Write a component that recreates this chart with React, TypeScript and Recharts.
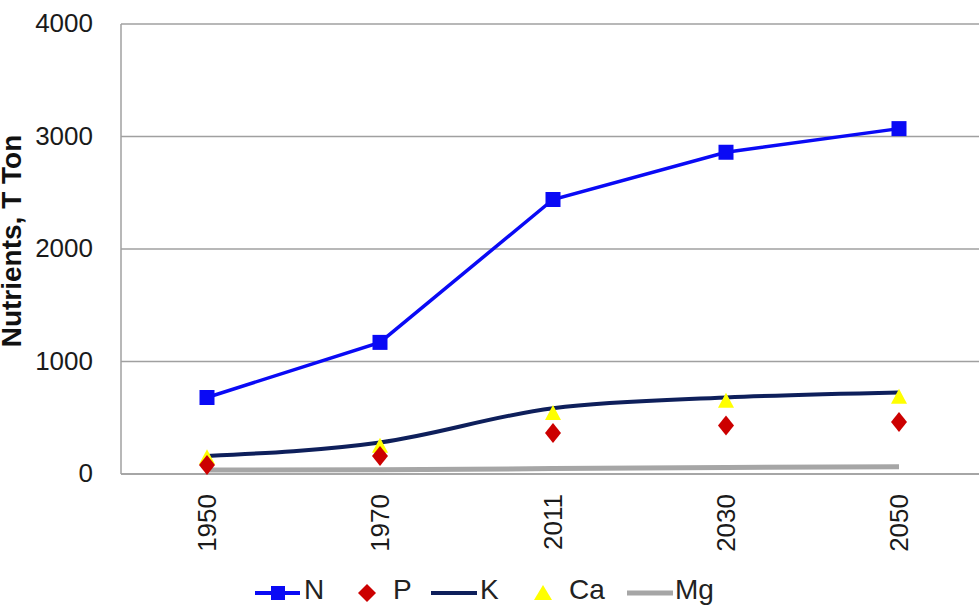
import React from "react";
import { LineChart, Line, XAxis, YAxis, CartesianGrid, Legend } from "recharts";

const years = ["1950", "1970", "2011", "2030", "2050"];
const nValues = [680, 1170, 2440, 2860, 3070];
const pValues = [80, 160, 364, 432, 462];
const kValues = [160, 280, 585, 680, 725];
const caValues = [150, 252, 542, 652, 687];
const mgValues = [35, 38, 48, 58, 65];
const yTicks = [0, 1000, 2000, 3000, 4000];

const data = years.map((y, i) => ({
  year: y,
  N: nValues[i],
  P: pValues[i],
  K: kValues[i],
  Ca: caValues[i],
  Mg: mgValues[i],
}));

const COLORS = { N: "#0A0AF5", P: "#CC0000", K: "#0E1F5B", Ca: "#FFFF00", Mg: "#A6A6A6" };
const FONT = "'Liberation Sans', Arial, sans-serif";

const SquareDot = (props: any) => {
  const { cx, cy, index } = props;
  if (cx == null || cy == null) return null;
  return <rect key={`n-${index}`} x={cx - 7.5} y={cy - 7.5} width={15} height={15} fill={COLORS.N} />;
};
const DiamondDot = (props: any) => {
  const { cx, cy, index } = props;
  if (cx == null || cy == null) return null;
  return (
    <polygon
      key={`p-${index}`}
      points={`${cx},${cy - 10} ${cx + 8},${cy} ${cx},${cy + 10} ${cx - 8},${cy}`}
      fill={COLORS.P}
    />
  );
};
const TriangleDot = (props: any) => {
  const { cx, cy, index } = props;
  if (cx == null || cy == null) return null;
  return (
    <polygon
      key={`c-${index}`}
      points={`${cx},${cy - 8} ${cx + 8},${cy + 7} ${cx - 8},${cy + 7}`}
      fill={COLORS.Ca}
    />
  );
};

const XTick = (props: any) => {
  const { x, y, payload } = props;
  return (
    <text
      x={0}
      y={0}
      transform={`translate(${x + 9},${y + 12}) rotate(-90)`}
      textAnchor="end"
      fontSize={26}
      fontFamily={FONT}
      fill="#1a1a1a"
    >
      {payload.value}
    </text>
  );
};

const YLabel = (props: any) => {
  const { viewBox } = props;
  const cy = viewBox ? viewBox.y + viewBox.height / 2 - 8 : 240;
  return (
    <text
      x={0}
      y={0}
      transform={`translate(21,${cy}) rotate(-90)`}
      textAnchor="middle"
      fontSize={28}
      fontWeight="bold"
      fontFamily={FONT}
      fill="#111"
    >
      Nutrients, T Ton
    </text>
  );
};

const LegendContent = () => {
  const ty = 599;
  const ly = 23;
  const textProps = { fontSize: 28, fontFamily: FONT, fill: "#222" };
  return (
    <svg width={979} height={37} style={{ display: "block" }}>
      <line x1={255} y1={ly} x2={300} y2={ly} stroke={COLORS.N} strokeWidth={4} />
      <rect x={271} y={ly - 7} width={14} height={14} fill={COLORS.N} />
      <text x={304} y={ty - 570} {...textProps}>N</text>

      <polygon points={`367,${ly - 9} 376,${ly} 367,${ly + 9} 358,${ly}`} fill={COLORS.P} />
      <text x={393} y={ty - 570} {...textProps}>P</text>

      <line x1={431} y1={ly} x2={477} y2={ly} stroke={COLORS.K} strokeWidth={4} />
      <text x={480} y={ty - 570} {...textProps}>K</text>

      <polygon points={`543,${ly - 8} 552,${ly + 7} 534,${ly + 7}`} fill={COLORS.Ca} />
      <text x={569} y={ty - 570} {...textProps}>Ca</text>

      <line x1={627} y1={ly} x2={673} y2={ly} stroke={COLORS.Mg} strokeWidth={5} />
      <text x={675} y={ty - 570} {...textProps}>Mg</text>
    </svg>
  );
};

export default function App() {
  return (
    <div style={{ position: "absolute", left: 0, top: 0, width: 979, height: 607, overflow: "hidden", background: "#fff" }}>
      <LineChart
        width={1000}
        height={607}
        data={data}
        margin={{ top: 24, right: 15, left: 0, bottom: 0 }}
      >
        <CartesianGrid horizontal={true} vertical={false} stroke="#A0A0A0" strokeWidth={1.5} />
        <XAxis
          dataKey="year"
          tick={<XTick />}
          tickLine={false}
          axisLine={{ stroke: "#A0A0A0", strokeWidth: 1.5 }}
          height={96}
          interval={0}
          padding={{ left: 86, right: 86 }}
        />
        <YAxis
          domain={[0, 4000]}
          ticks={yTicks}
          width={121}
          tickLine={false}
          tickMargin={22}
          axisLine={{ stroke: "#A0A0A0", strokeWidth: 1.5 }}
          tick={{ fontSize: 26, fontFamily: FONT, fill: "#1a1a1a", dy: -1 }}
          label={<YLabel />}
        />
        <Legend
          verticalAlign="bottom"
          height={37}
          content={<LegendContent />}
          wrapperStyle={{ left: 0, width: 979, top: 570, height: 37 }}
        />
        <Line dataKey="Mg" stroke={COLORS.Mg} strokeWidth={5} dot={false} isAnimationActive={false} />
        <Line type="monotone" dataKey="K" stroke={COLORS.K} strokeWidth={4} dot={false} isAnimationActive={false} />
        <Line dataKey="Ca" stroke="none" dot={<TriangleDot />} activeDot={false} isAnimationActive={false} />
        <Line dataKey="P" stroke="none" dot={<DiamondDot />} activeDot={false} isAnimationActive={false} />
        <Line dataKey="N" stroke={COLORS.N} strokeWidth={3.5} dot={<SquareDot />} isAnimationActive={false} />
      </LineChart>
    </div>
  );
}
